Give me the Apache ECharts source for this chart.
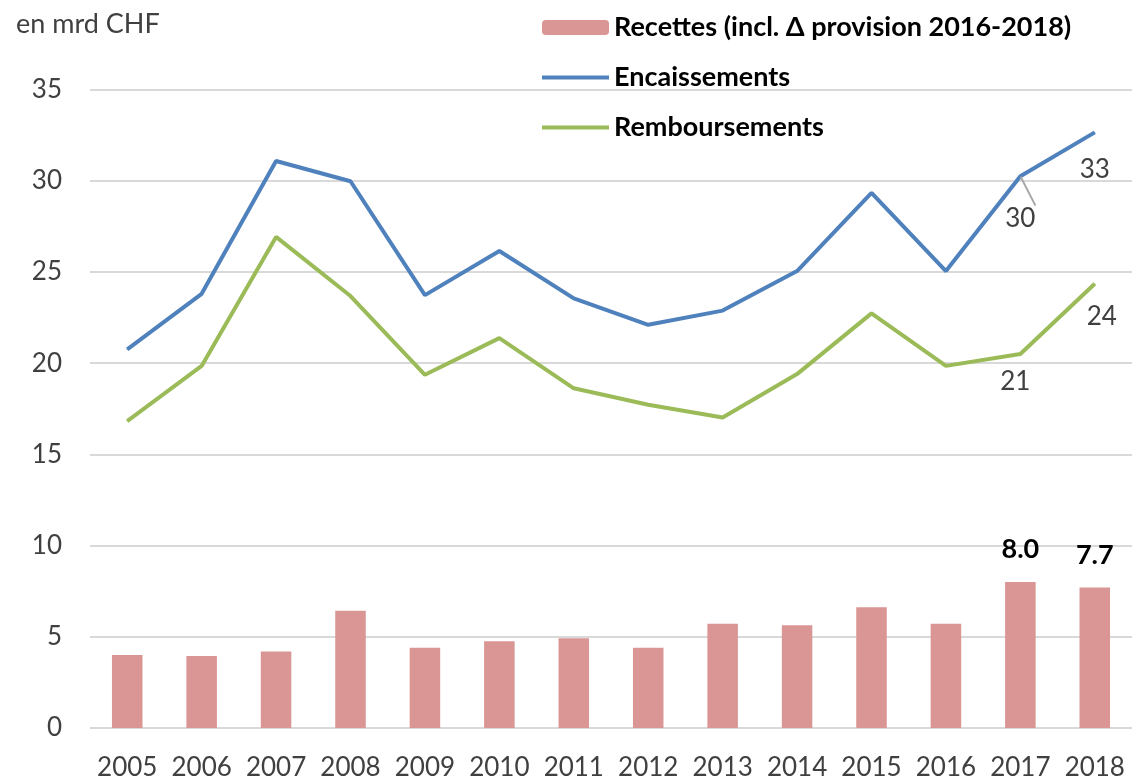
<!DOCTYPE html>
<html>
<head>
<meta charset="utf-8">
<script src="https://cdn.jsdelivr.net/npm/echarts@6/dist/echarts.min.js"></script>
<style>
html,body{margin:0;padding:0;background:#fff;}
#c{width:1132px;height:781px;}
</style>
</head>
<body>
<div id="c"></div>
<script>
var years = ['2005','2006','2007','2008','2009','2010','2011','2012','2013','2014','2015','2016','2017','2018'];
var recettes = [4.0, 3.95, 4.2, 6.43, 4.4, 4.75, 4.92, 4.4, 5.72, 5.63, 6.62, 5.72, 8.0, 7.7];
var encaissements = [20.75, 23.8, 31.08, 29.97, 23.73, 26.15, 23.55, 22.1, 22.88, 25.05, 29.33, 25.05, 30.25, 32.65];
var remboursements = [16.82, 19.85, 26.92, 23.68, 19.36, 21.37, 18.62, 17.72, 17.02, 19.4, 22.73, 19.85, 20.5, 24.35];
var yTicks = [0, 5, 10, 15, 20, 25, 30, 35];
var seriesNames = ['Recettes (incl. Δ provision 2016-2018)', 'Encaissements', 'Remboursements'];
var unitLabel = 'en mrd CHF';

var FONT = 'Lato, Carlito, Calibri, "Open Sans", sans-serif';
var TXT = '#404040';

// label styling per labelled point (kept apart from data)
var barLabelIdx = [12, 13];
var encLabels = {12: {distance: 29, offset: [0, 0], line: true}, 13: {distance: 24, offset: [0, 0]}};
var remLabels = {12: {distance: 14, offset: [-5, 0]}, 13: {distance: 19, offset: [7, 0]}};

function lineData(values, cfg) {
  return values.map(function (v, i) {
    var c = cfg[i];
    if (!c) return {value: v};
    var item = {
      value: v,
      label: {
        show: true, position: 'bottom', distance: c.distance, offset: c.offset,
        fontFamily: FONT, fontSize: 26, color: TXT,
        formatter: function (p) { return Math.round(p.value); }
      }
    };
    if (c.line) {
      item.labelLine = {show: true, lineStyle: {color: '#A6A6A6', width: 2}};
    }
    return item;
  });
}

function barData(values) {
  return values.map(function (v, i) {
    if (barLabelIdx.indexOf(i) < 0) return {value: v};
    return {
      value: v,
      label: {
        show: true, position: 'top', distance: 19,
        fontFamily: FONT, fontSize: 27, fontWeight: 'bold', color: '#000',
        formatter: function (p) { return p.value.toFixed(1); }
      }
    };
  });
}

var chart = echarts.init(document.getElementById('c'), null, {renderer: 'canvas'});
chart.setOption({
  animation: false,
  backgroundColor: '#fff',
  textStyle: {fontFamily: FONT},
  title: {
    text: unitLabel, left: 11, top: 6,
    textStyle: {fontFamily: FONT, fontSize: 27, fontWeight: 'normal', color: TXT}
  },
  legend: {
    orient: 'vertical', left: 540, top: 14, padding: 0,
    itemWidth: 67, itemHeight: 15, itemGap: 23,
    textStyle: {fontFamily: FONT, fontSize: 27, fontWeight: 'bold', color: '#000', lineHeight: 27},
    lineStyle: {width: 4},
    data: [
      {name: seriesNames[0]},
      {name: seriesNames[1], itemStyle: {opacity: 0}},
      {name: seriesNames[2], itemStyle: {opacity: 0}}
    ]
  },
  grid: {left: 90, right: -6, top: 89.5, bottom: 51, containLabel: false},
  xAxis: {
    type: 'category', data: years, boundaryGap: true,
    axisLine: {show: false}, axisTick: {show: false},
    axisLabel: {fontFamily: FONT, fontSize: 26, color: TXT, margin: 27, interval: 0}
  },
  yAxis: {
    type: 'value', min: yTicks[0], max: yTicks[yTicks.length - 1], interval: 5,
    axisLine: {show: false}, axisTick: {show: false},
    axisLabel: {fontFamily: FONT, fontSize: 26, color: TXT, margin: 28},
    splitLine: {show: true, lineStyle: {color: '#D9D9D9', width: 2}}
  },
  series: [
    {
      name: seriesNames[0], type: 'bar', data: barData(recettes),
      barWidth: '41%',
      itemStyle: {color: '#D99694'},
      z: 2
    },
    {
      name: seriesNames[1], type: 'line', data: lineData(encaissements, encLabels),
      symbol: 'circle', symbolSize: 1, showSymbol: true,
      lineStyle: {color: '#4F81BD', width: 4},
      itemStyle: {color: '#4F81BD'},
      z: 3
    },
    {
      name: seriesNames[2], type: 'line', data: lineData(remboursements, remLabels),
      symbol: 'circle', symbolSize: 1, showSymbol: true,
      lineStyle: {color: '#9BBB59', width: 4},
      itemStyle: {color: '#9BBB59'},
      z: 3
    }
  ]
});
</script>
</body>
</html>
